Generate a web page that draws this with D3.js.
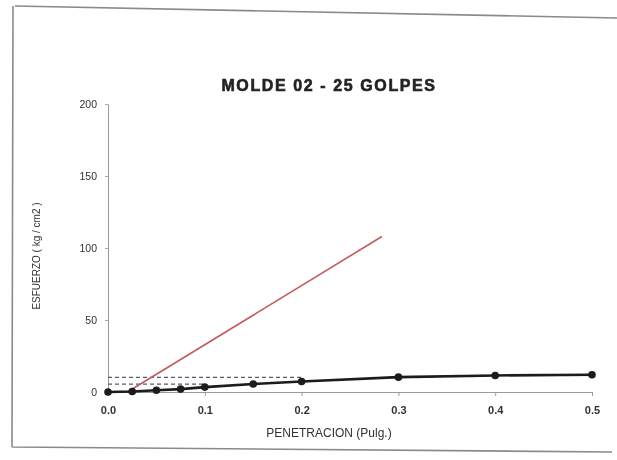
<!DOCTYPE html>
<html>
<head>
<meta charset="utf-8">
<script src="https://cdn.jsdelivr.net/npm/d3@7"></script>
<style>
  html, body { margin: 0; padding: 0; background: #ffffff; }
  svg { display: block; }
  text { font-family: "Liberation Sans", Arial, sans-serif; }
</style>
</head>
<body>
<svg id="chart" width="617" height="460"></svg>
<script>
// Penetration readings (in) and stress (kg/cm2)
const penetration = [0, 0.025, 0.05, 0.075, 0.1, 0.15, 0.2, 0.3, 0.4, 0.5];
const stress = [0, 0.3, 1.2, 2.0, 3.4, 5.6, 7.3, 10.3, 11.5, 12.0];

// Correction line (origin shift)
const correctionX = [0.02, 0.283];
const correctionY = [0, 108];

// Corrected stress reference lines at 0.1" and 0.2"
const refPen = [0.1, 0.2];
const refStress = [5.5, 10.2];

const xTicks = [0, 0.1, 0.2, 0.3, 0.4, 0.5];
const yTicks = [0, 50, 100, 150, 200];

const title = "MOLDE 02 - 25 GOLPES";
const xTitle = "PENETRACION (Pulg.)";
const yTitle = "ESFUERZO ( kg / cm2 )";

const svg = d3.select("#chart");

const defs = svg.append("defs");
defs.append("filter").attr("id", "soft")
  .append("feGaussianBlur").attr("stdDeviation", 0.45);

const root = svg.append("g").attr("filter", "url(#soft)");

// page frame
root.append("path")
  .attr("d", "M15,6 L617,18 M13,6 L12,447 M12,447 L612,452")
  .attr("fill", "none").attr("stroke", "#8a8a8a").attr("stroke-width", 1.6);

const x = d3.scaleLinear().domain([0, 0.5]).range([108, 592]);
const y = d3.scaleLinear().domain([0, 200]).range([392, 104]);

// title
root.append("text")
  .attr("x", 329).attr("y", 91)
  .attr("text-anchor", "middle")
  .attr("font-family", "'DejaVu Sans', sans-serif")
  .attr("font-size", 16).attr("font-weight", "bold")
  .style("letter-spacing", "1.6px")
  .attr("fill", "#222").attr("stroke", "#222").attr("stroke-width", 0.6)
  .text(title);

// x axis
const xAxis = root.append("g")
  .attr("transform", `translate(0,${y(0)})`)
  .call(d3.axisBottom(x).tickValues(xTicks).tickFormat(d3.format(".1f")).tickSize(4).tickPadding(10));
xAxis.select(".domain").attr("stroke", "#9a9a9a").attr("stroke-width", 1);
xAxis.selectAll(".tick line").attr("stroke", "#9a9a9a");
xAxis.selectAll(".tick text")
  .attr("font-size", 11).attr("font-weight", "bold").attr("fill", "#333");

// y axis
const yAxis = root.append("g")
  .attr("transform", `translate(${x(0)},0)`)
  .call(d3.axisLeft(y).tickValues(yTicks).tickSize(3).tickPadding(8));
yAxis.select(".domain").attr("stroke", "#9a9a9a").attr("stroke-width", 1);
yAxis.selectAll(".tick line").attr("stroke", "#aaa");
yAxis.selectAll(".tick text")
  .attr("font-size", 10.5).attr("fill", "#333");

// axis titles
root.append("text")
  .attr("x", 329).attr("y", 437)
  .attr("text-anchor", "middle")
  .attr("font-size", 12).attr("fill", "#333")
  .text(xTitle);

root.append("text")
  .attr("transform", `translate(40,${y(100) + 8}) rotate(-90)`)
  .attr("text-anchor", "middle")
  .attr("font-size", 10).attr("fill", "#333")
  .text(yTitle);

// dashed reference lines
refPen.forEach((p, i) => {
  root.append("line")
    .attr("x1", x(0)).attr("x2", x(p))
    .attr("y1", y(refStress[i])).attr("y2", y(refStress[i]))
    .attr("stroke", "#555a70").attr("stroke-width", 1.2)
    .attr("stroke-dasharray", "4,3");
});

// correction line
root.append("line")
  .attr("x1", x(correctionX[0])).attr("y1", y(correctionY[0]))
  .attr("x2", x(correctionX[1])).attr("y2", y(correctionY[1]))
  .attr("stroke", "#c25a5e").attr("stroke-width", 1.6);

// stress–penetration curve
const pts = penetration.map((p, i) => [p, stress[i]]);
root.append("path")
  .datum(pts)
  .attr("d", d3.line().x(d => x(d[0])).y(d => y(d[1])))
  .attr("fill", "none").attr("stroke", "#1a1a1a").attr("stroke-width", 2.6);

root.selectAll("circle.pt")
  .data(pts)
  .join("circle")
  .attr("class", "pt")
  .attr("cx", d => x(d[0])).attr("cy", d => y(d[1]))
  .attr("r", 3.8)
  .attr("fill", "#1a1a1a");
</script>
</body>
</html>
